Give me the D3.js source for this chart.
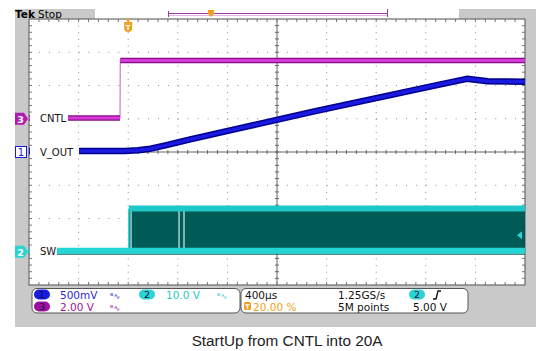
<!DOCTYPE html>
<html><head><meta charset="utf-8">
<script src="https://cdn.jsdelivr.net/npm/d3@7"></script>
<style>
html,body{margin:0;padding:0;background:#fff;}
svg{display:block;}
</style></head>
<body>
<script>
// ---- data ----
const timeDomainMs = [-0.8, 3.2];          // 10 div x 400us, trigger at 20%
const divDomain = [-4, 4];

// CH3 CNTL (2.00 V/div, ground at +1 div)
const cntlT = [-0.8, -0.066, -0.064, 3.2];
const cntlV = [0.05, 0.05, 3.5, 3.5];

// CH1 V_OUT (500 mV/div, ground at 0 div)
const voutT = [-0.8, -0.03, 0.08, 0.18, 0.3, 0.5, 1.0, 1.5, 2.0, 2.5, 2.73, 2.9, 3.2];
const voutV = [0.015, 0.015, 0.025, 0.05, 0.1, 0.19, 0.40, 0.61, 0.81, 1.01, 1.10, 1.065, 1.055];

// CH2 SW (10.0 V/div, ground at -3 div) switching envelope
const swT    = [-0.8, 0.005, 0.006, 3.2];
const swHigh = [0.3, 0.3, 13.0, 13.0];
const swLow  = [0.3, 0.3, 0.3, 0.3];
const swGapT = [0.023, 0.41, 0.45];

const channels = [
  {id:"3", name:"CNTL", scale:2.0, offset:1, color:"#b01cb0"},
  {id:"1", name:"V_OUT", scale:0.5, offset:0, color:"#1a1ad8"},
  {id:"2", name:"SW", scale:10.0, offset:-3, color:"#2ad4d4"}
];
const ch2TrigLevel = 5.0;

// ---- layout ----
const W = 536, H = 351;
const plot = {l:29, r:525, t:19, b:285};
const FONT = "'DejaVu Sans', sans-serif";
const svg = d3.select("body").append("svg").attr("width", W).attr("height", H)
  .style("font-family", FONT);

const x = d3.scaleLinear().domain(timeDomainMs).range([plot.l, plot.r]);
const yDiv = d3.scaleLinear().domain(divDomain).range([plot.b, plot.t]);
const yCh = ch => v => yDiv(ch.offset + v / ch.scale);

// instrument frame (gray)
svg.append("rect").attr("x",15).attr("y",9).attr("width",W-15).attr("height",318).attr("fill","#c9c9c9");
svg.append("rect").attr("x",95).attr("y",9).attr("width",364).attr("height",10).attr("fill","#fff");
svg.append("rect").attr("x",plot.l).attr("y",plot.t).attr("width",plot.r-plot.l).attr("height",plot.b-plot.t).attr("fill","#fff");

// top label
svg.append("text").attr("x",15).attr("y",18).attr("font-size",10.5).attr("font-weight","bold").attr("fill","#000").text("Tek");
svg.append("text").attr("x",38).attr("y",18).attr("font-size",10.5).attr("fill","#000").text("Stop");

// record bar
svg.append("line").attr("x1",168).attr("x2",387).attr("y1",13.5).attr("y2",13.5).attr("stroke","#9a3a9a").attr("stroke-width",1);
svg.append("line").attr("x1",168).attr("x2",387).attr("y1",15.5).attr("y2",15.5).attr("stroke","#e6b3e6").attr("stroke-width",1);
svg.append("line").attr("x1",168.5).attr("x2",168.5).attr("y1",11).attr("y2",17).attr("stroke","#9a3a9a");
svg.append("line").attr("x1",387.5).attr("x2",387.5).attr("y1",9).attr("y2",17).attr("stroke","#9a3a9a");
svg.append("path").attr("d","M208,10 h6 v4 l-3,3 l-3,-3 z").attr("fill","#f0a020");

// graticule
const g = svg.append("g");
const xDivs = d3.range(0, 11).map(i => plot.l + i*(plot.r-plot.l)/10);
const yDivs = d3.range(-4, 5);
xDivs.slice(1,-1).forEach((px,i) => {
  if (i === 4) return;
  g.append("line").attr("x1",px).attr("x2",px).attr("y1",plot.t).attr("y2",plot.b)
    .attr("stroke","#8a8a8a").attr("stroke-width",1).attr("stroke-dasharray","1,5.65");
});
yDivs.slice(1,-1).forEach(d => {
  if (d === 0) return;
  g.append("line").attr("x1",plot.l).attr("x2",plot.r).attr("y1",yDiv(d)).attr("y2",yDiv(d))
    .attr("stroke","#8a8a8a").attr("stroke-width",1).attr("stroke-dasharray","1,8.92");
});
const cx = (plot.l+plot.r)/2, cy = yDiv(0);
g.append("line").attr("x1",cx).attr("x2",cx).attr("y1",plot.t).attr("y2",plot.b).attr("stroke","#666");
g.append("line").attr("x1",plot.l).attr("x2",plot.r).attr("y1",cy).attr("y2",cy).attr("stroke","#666");
// minor ticks
const dx = (plot.r-plot.l)/50, dy = (plot.b-plot.t)/40;
for (let i=1;i<50;i++){
  const px = plot.l + i*dx;
  g.append("line").attr("x1",px).attr("x2",px).attr("y1",cy-2).attr("y2",cy+2).attr("stroke","#666");
  g.append("line").attr("x1",px).attr("x2",px).attr("y1",plot.t).attr("y2",plot.t+3).attr("stroke","#777");
  g.append("line").attr("x1",px).attr("x2",px).attr("y1",plot.b-3).attr("y2",plot.b).attr("stroke","#777");
}
for (let i=1;i<40;i++){
  const py = plot.t + i*dy;
  g.append("line").attr("x1",cx-2).attr("x2",cx+2).attr("y1",py).attr("y2",py).attr("stroke","#666");
  g.append("line").attr("x1",plot.l).attr("x2",plot.l+3).attr("y1",py).attr("y2",py).attr("stroke","#777");
  g.append("line").attr("x1",plot.r-3).attr("x2",plot.r).attr("y1",py).attr("y2",py).attr("stroke","#777");
}
g.append("rect").attr("x",plot.l).attr("y",plot.t).attr("width",plot.r-plot.l).attr("height",plot.b-plot.t)
  .attr("fill","none").attr("stroke","#6a6a6a").attr("stroke-width",1.2);

// ---- traces ----
const tr = svg.append("g");
// SW
const ch2 = channels[2], y2 = yCh(ch2);
const swData = swT.map((t,i)=>({t, hi:swHigh[i], lo:swLow[i]}));
const swOn = swData.filter(d => d.hi > 1);
tr.append("path").datum(swOn)
  .attr("d", d3.area().x(d=>x(d.t)).y0(d=>y2(d.lo)).y1(d=>y2(d.hi)))
  .attr("fill","#005a55");
swGapT.forEach(t => {
  tr.append("line").attr("x1",x(t)).attr("x2",x(t)).attr("y1",y2(swHigh[2])).attr("y2",y2(swLow[2]))
    .attr("stroke","#bfe6e4").attr("stroke-width",1.3);
});
tr.append("line").attr("x1",x(swT[1])).attr("x2",x(swT[1])).attr("y1",y2(swHigh[2])).attr("y2",y2(swLow[1]))
  .attr("stroke","#2ad4d4").attr("stroke-width",1.5);
tr.append("path").datum(swOn)
  .attr("d", d3.line().x(d=>x(d.t)).y(d=>y2(d.hi)))
  .attr("fill","none").attr("stroke","#1fc8c8").attr("stroke-width",6);
tr.append("path").datum(swData)
  .attr("d", d3.line().x(d=>x(d.t)).y(d=>y2(d.lo)))
  .attr("fill","none").attr("stroke","#22d6d6").attr("stroke-width",6);
tr.append("path").datum(swData)
  .attr("d", d3.line().x(d=>x(d.t)).y(d=>y2(d.lo)+3.5))
  .attr("fill","none").attr("stroke","#0a6a66").attr("stroke-width",1.2);

// V_OUT
const ch1 = channels[1], y1 = yCh(ch1);
const voutData = voutT.map((t,i)=>({t, v:voutV[i]}));
tr.append("path").datum(voutData)
  .attr("d", d3.line().x(d=>x(d.t)).y(d=>y1(d.v)))
  .attr("fill","none").attr("stroke","#000090").attr("stroke-width",6.5).attr("stroke-linejoin","round");
tr.append("path").datum(voutData)
  .attr("d", d3.line().x(d=>x(d.t)).y(d=>y1(d.v)))
  .attr("fill","none").attr("stroke","#1a1ae0").attr("stroke-width",3.5).attr("stroke-linejoin","round");

// CNTL
const ch3 = channels[0], y3 = yCh(ch3);
const cntlData = cntlT.map((t,i)=>({t, v:cntlV[i]}));
tr.append("path").datum(cntlData)
  .attr("d", d3.line().x(d=>x(d.t)).y(d=>y3(d.v)))
  .attr("fill","none").attr("stroke","#c77cc7").attr("stroke-width",1.2);
[[0,1],[2,3]].forEach(([a,b])=>{
  tr.append("path").datum([cntlData[a],cntlData[b]])
    .attr("d", d3.line().x(d=>x(d.t)).y(d=>y3(d.v)))
    .attr("fill","none").attr("stroke","#880a88").attr("stroke-width",5.5);
  tr.append("path").datum([cntlData[a],cntlData[b]])
    .attr("d", d3.line().x(d=>x(d.t)).y(d=>y3(d.v)))
    .attr("fill","none").attr("stroke","#d63ad6").attr("stroke-width",3);
});

// trace labels (with white background covering trace)
const labelEnds = {"CNTL":68, "V_OUT":79, "SW":57};
channels.forEach(ch => {
  const yy = yDiv(ch.offset);
  svg.append("rect").attr("x",plot.l+1).attr("y",yy-6).attr("width",labelEnds[ch.name]-plot.l-1).attr("height",12).attr("fill","#fff");
  svg.append("text").attr("x",40).attr("y",yy+3.5).attr("font-size",10).attr("fill","#111").text(ch.name);
});

// left ground markers
function chMarker(ch){
  const yy = yDiv(ch.offset);
  const gm = svg.append("g");
  if (ch.id === "1") {
    gm.append("rect").attr("x",15.5).attr("y",yy-5.5).attr("width",11).attr("height",11).attr("fill","#fff").attr("stroke",ch.color);
    gm.append("text").attr("x",21).attr("y",yy+4).attr("text-anchor","middle").attr("font-size",10).attr("fill",ch.color).text(ch.id);
  } else {
    gm.append("path").attr("d",`M15,${yy-6} h9 l4,6 l-4,6 h-9 z`).attr("fill",ch.color);
    gm.append("text").attr("x",20.5).attr("y",yy+4).attr("text-anchor","middle").attr("font-size",9.5).attr("font-weight","bold").attr("fill","#fff").text(ch.id);
  }
}
channels.forEach(chMarker);

// trigger position marker (top)
const tx = x(0);
svg.append("path").attr("d",`M${tx-4},${plot.t+3} h8 v6 a4,4 0 0 1 -4,4 a4,4 0 0 1 -4,-4 z`).attr("fill","#f0a020");
svg.append("text").attr("x",tx).attr("y",plot.t+11).attr("text-anchor","middle").attr("font-size",7).attr("font-weight","bold").attr("fill","#fff").text("T");
svg.append("path").attr("d",`M${tx-3},${plot.t} h6 l-3,3 z`).attr("fill","#f0a020");

// trigger level marker (right)
const ty = y2(ch2TrigLevel);
svg.append("path").attr("d",`M${plot.r-8},${ty} l5,-4 v8 z`).attr("fill","#2ad4d4");

// ---- info panels ----
function panel(x0,x1){
  svg.append("rect").attr("x",x0).attr("y",288.5).attr("width",x1-x0).attr("height",24.5).attr("rx",5)
    .attr("fill","#fff").attr("stroke","#555").attr("stroke-width",1);
}
panel(32,240); panel(241,468);
function pill(cx0, cyy, fill, label){
  svg.append("rect").attr("x",cx0).attr("y",cyy-5).attr("width",16).attr("height",10).attr("rx",5).attr("fill",fill);
  svg.append("text").attr("x",cx0+8).attr("y",cyy+3.5).attr("text-anchor","middle").attr("font-size",9.5).attr("fill","#101040").text(label);
}
const fs = 10.5;
pill(34,294.5,"#1a1ae0","1");
svg.append("text").attr("x",60).attr("y",298.5).attr("font-size",fs).attr("fill","#2a2ad0").text("500mV");
svg.append("text").attr("x",110).attr("y",298.5).attr("font-size",8).attr("fill","#2a2ad0").text("ᴮ∿");
pill(139,294.5,"#2ad4d4","2");
svg.append("text").attr("x",166).attr("y",298.5).attr("font-size",fs).attr("fill","#2ac8c8").text("10.0 V");
svg.append("text").attr("x",217).attr("y",298.5).attr("font-size",8).attr("fill","#2ac8c8").text("ᴮ∿");
pill(34,306.5,"#a010a0","3");
svg.append("text").attr("x",60).attr("y",310.5).attr("font-size",fs).attr("fill","#a010a0").text("2.00 V");
svg.append("text").attr("x",110).attr("y",310.5).attr("font-size",8).attr("fill","#a010a0").text("ᴮ∿");

svg.append("text").attr("x",245).attr("y",298.5).attr("font-size",fs).attr("fill","#111").text("400µs");
svg.append("text").attr("x",338).attr("y",298.5).attr("font-size",fs).attr("fill","#111").text("1.25GS/s");
pill(409,294.5,"#2ad4d4","2");
svg.append("path").attr("d","M433,299 h3 l2,-8 h3").attr("fill","none").attr("stroke","#111").attr("stroke-width",1.3);
svg.append("rect").attr("x",244).attr("y",302).attr("width",7).attr("height",8).attr("rx",1.5).attr("fill","#f0a020");
svg.append("text").attr("x",247.5).attr("y",308.5).attr("text-anchor","middle").attr("font-size",6.5).attr("font-weight","bold").attr("fill","#fff").text("T");
svg.append("text").attr("x",253).attr("y",310.5).attr("font-size",fs).attr("fill","#f0a020").text("20.00 %");
svg.append("text").attr("x",338).attr("y",310.5).attr("font-size",fs).attr("fill","#111").text("5M points");
svg.append("text").attr("x",413).attr("y",310.5).attr("font-size",fs).attr("fill","#111").text("5.00 V");

// caption
svg.append("text").attr("x",287).attr("y",346).attr("text-anchor","middle")
  .style("font-family","'Liberation Sans', Arial, sans-serif").attr("font-size",15.3).attr("fill","#222")
  .text("StartUp from CNTL into 20A");
</script>
</body></html>
